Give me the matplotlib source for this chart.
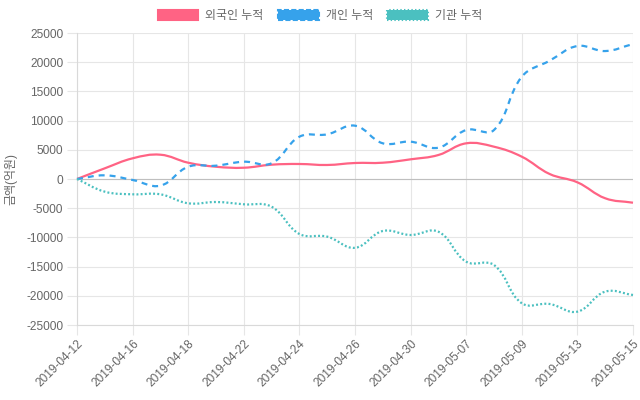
import numpy as np
import matplotlib
matplotlib.use("Agg")
import matplotlib.pyplot as plt
from matplotlib.path import Path
from matplotlib.patches import PathPatch, Patch

plt.rcParams['font.family'] = ['Liberation Sans', 'Noto Sans CJK KR', 'DejaVu Sans']
plt.rcParams['lines.scale_dashes'] = False

dates = ['2019-04-12', '2019-04-15', '2019-04-16', '2019-04-17', '2019-04-18',
         '2019-04-19', '2019-04-22', '2019-04-23', '2019-04-24', '2019-04-25',
         '2019-04-26', '2019-04-29', '2019-04-30', '2019-05-02', '2019-05-07',
         '2019-05-08', '2019-05-09', '2019-05-10', '2019-05-13', '2019-05-14',
         '2019-05-15']

# cumulative net buying (억원)
foreign = [0, 1830, 3540, 4160, 2790, 2100, 1930, 2450, 2570, 2400, 2740,
           2790, 3370, 4110, 6110, 5530, 3820, 860, -570, -3300, -4060]
individual = [0, 630, -170, -1140, 2100, 2280, 2960, 2690, 7240, 7650, 9130,
              6110, 6390, 5360, 8390, 8390, 17510, 20250, 22770, 21910, 23110]
institution = [0, -2170, -2620, -2620, -4160, -3940, -4330, -4740, -9420, -9870,
               -11780, -8900, -9590, -9020, -14160, -14720, -21280, -21400,
               -22720, -19290, -19860]

series_names = ['외국인 누적', '개인 누적', '기관 누적']
colors = ['#ff6384', '#36a2eb', '#4bc0c0']


def spline_path(xs, ys, sx, sy, t=0.4):
    # chart.js style spline, computed in pixel space
    px = np.asarray(xs, float) * sx
    py = np.asarray(ys, float) * sy
    n = len(px)
    cpp = np.zeros((n, 2))
    cpn = np.zeros((n, 2))
    for i in range(n):
        a = max(i - 1, 0)
        b = min(i + 1, n - 1)
        d01 = np.hypot(px[i] - px[a], py[i] - py[a])
        d12 = np.hypot(px[b] - px[i], py[b] - py[i])
        tot = d01 + d12
        s01 = d01 / tot if tot > 0 else 0
        s12 = d12 / tot if tot > 0 else 0
        fa, fb = t * s01, t * s12
        cpp[i] = (px[i] - fa * (px[b] - px[a]), py[i] - fa * (py[b] - py[a]))
        cpn[i] = (px[i] + fb * (px[b] - px[a]), py[i] + fb * (py[b] - py[a]))
    verts = [(px[0], py[0])]
    codes = [Path.MOVETO]
    for i in range(1, n):
        verts += [tuple(cpn[i - 1]), tuple(cpp[i]), (px[i], py[i])]
        codes += [Path.CURVE4] * 3
    verts = np.array(verts)
    verts[:, 0] /= sx
    verts[:, 1] /= sy
    return Path(verts, codes)


fig = plt.figure(figsize=(6.4, 4), dpi=100)
ax = fig.add_axes([77 / 640, 1 - 325 / 400, 556 / 640, 292 / 400])

x = np.arange(len(dates))
sx = 556 / 20
sy = 292 / 50000

styles = [dict(linestyle='-'),
          dict(linestyle=(0, (4.3, 3.6))),
          dict(linestyle=(0, (1.4, 1.6)))]

for vals, c, st in zip([foreign, individual, institution], colors, styles):
    p = spline_path(x, vals, sx, sy)
    ax.add_patch(PathPatch(p, facecolor='none', edgecolor=c, lw=1.6,
                           clip_on=False, zorder=3, **st))

ax.set_xlim(0, 20)
ax.set_ylim(-25000, 25000)
ax.set_yticks(np.arange(-25000, 25001, 5000))
ax.set_yticklabels([str(v) for v in range(-25000, 25001, 5000)])
ax.set_xticks(x[::2])
ax.set_xticklabels(dates[::2], rotation=45, ha='right', rotation_mode='anchor')

grid_c = '#e6e6e6'
ax.grid(True, color=grid_c, lw=0.8)
ax.axhline(0, color='#bfbfbf', lw=0.8, zorder=2)
for s in ax.spines.values():
    s.set_visible(False)
ax.spines['left'].set_visible(True)
ax.spines['left'].set_color('#d9d9d9')
ax.spines['bottom'].set_visible(True)
ax.spines['bottom'].set_color('#d9d9d9')
ax.tick_params(axis='both', colors=grid_c, labelcolor='#666666', labelsize=8.6,
               length=7, width=0.8)
ax.tick_params(axis='y', pad=3)
ax.tick_params(axis='x', pad=2)
ax.set_ylabel('금액(억원)', color='#666666', fontsize=8.6, labelpad=6)

handles = [Patch(facecolor=colors[0], edgecolor=colors[0], lw=1.5),
           Patch(facecolor=colors[1], edgecolor=colors[1], lw=1.5, linestyle='--'),
           Patch(facecolor=colors[2], edgecolor=colors[2], lw=1.5, linestyle=':')]
fig.legend(handles, series_names, loc='center', bbox_to_anchor=(0.5, 1 - 16 / 400),
           ncol=3, frameon=False, fontsize=8.6, handlelength=3.4, handleheight=0.95,
           handletextpad=0.6, columnspacing=1.2, labelcolor='#666666')

fig.savefig('out.png', dpi=100)
